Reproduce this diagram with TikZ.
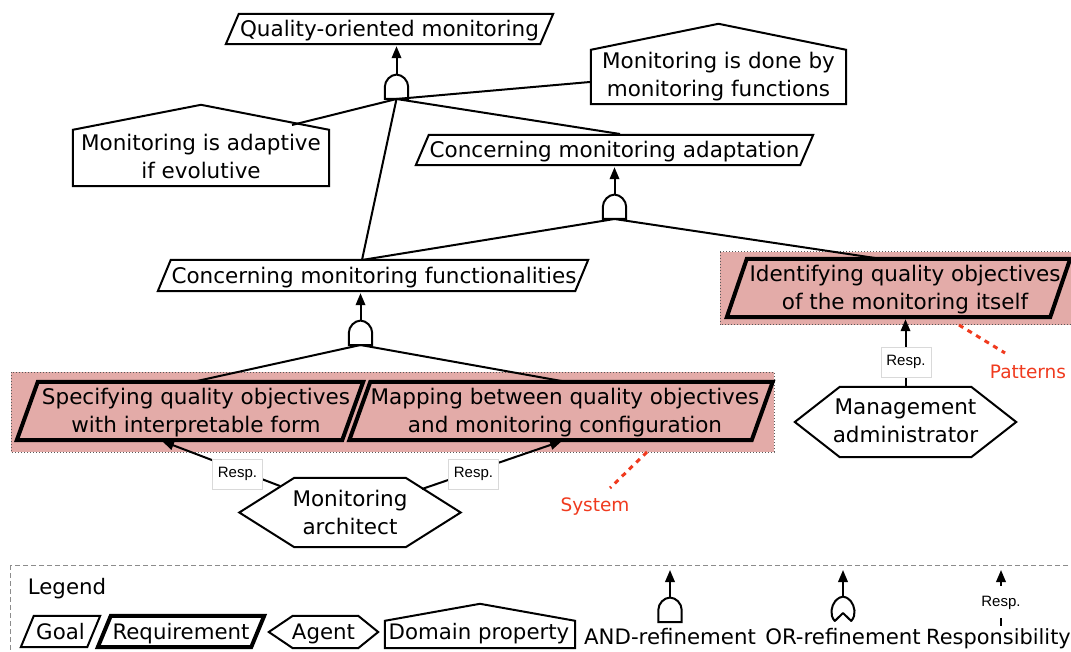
\documentclass[tikz,border=0pt]{standalone}
\usepackage{fontspec}
\setmainfont{DejaVu Sans}
\newfontfamily\respfont{Liberation Sans}
\usetikzlibrary{arrows.meta,calc}
\definecolor{pinkbg}{HTML}{E3ABA8}
\definecolor{redlabel}{HTML}{F03A1E}
\tikzset{
  x=1pt,y=-1pt,
  label text/.style={inner sep=0pt,align=center,font=\fontsize{21.5}{28}\selectfont},
  legend text/.style={inner sep=0pt,font=\fontsize{21.3}{24}\selectfont},
  goalline/.style={draw=black,line width=2pt,line join=miter,fill=white},
  reqline/.style={draw=black,line width=4pt,line join=miter},
  conn/.style={draw=black,line width=2pt},
  arrowconn/.style={conn,-{Triangle[length=12pt,width=9.5pt]}},
  respbox/.style={draw=black!15,line width=1pt,fill=white,inner sep=0pt,minimum width=50pt,minimum height=30pt,font=\respfont\fontsize{15}{16}\selectfont},
  zone/.style={fill=pinkbg,draw=black!65,line width=1pt,dotted},
  redconn/.style={draw=redlabel,line width=3pt,dash pattern=on 5pt off 5pt},
  redtext/.style={text=redlabel,inner sep=0pt,font=\fontsize{18.5}{20}\selectfont},
  legendbox/.style={draw=black!45,line width=1pt,dash pattern=on 5pt off 3pt},
}
% #1 look, #2 name, #3 xc, #4 yc, #5 w, #6 h, #7 slant, #8 text, #9 text x offset
\newcommand{\paral}[9]{%
  \node[minimum width=#5pt,minimum height=#6pt,inner sep=0pt] (#2) at (#3,#4) {};
  \path[#1] ([xshift=#7pt]#2.north west) -- (#2.north east) -- ([xshift=-#7pt]#2.south east) -- (#2.south west) -- cycle;
  \node[label text] at ([xshift=#9pt,yshift=-2pt]#2.center) {#8};
}
% #1 name, #2 xc, #3 yc, #4 w, #5 h, #6 roof, #7 text, #8 text rise
\newcommand{\house}[8]{%
  \node[minimum width=#4pt,minimum height=#5pt,inner sep=0pt] (#1) at (#2,#3) {};
  \path[goalline] (#1.south west) -- (#1.north west) -- ([yshift=#6pt]#1.north) -- (#1.north east) -- (#1.south east) -- cycle;
  \node[label text] at ([yshift=#8pt]#1.center) {#7};
}
% #1 name, #2 xc, #3 yc, #4 w, #5 h, #6 inset, #7 text, #8 text rise
\newcommand{\hexa}[8]{%
  \node[minimum width=#4pt,minimum height=#5pt,inner sep=0pt] (#1) at (#2,#3) {};
  \path[goalline] (#1.west) -- ([xshift=#6pt]#1.north west) -- ([xshift=-#6pt]#1.north east) -- (#1.east) -- ([xshift=-#6pt]#1.south east) -- ([xshift=#6pt]#1.south west) -- cycle;
  \node[label text] at ([yshift=#8pt]#1.center) {#7};
}
% #1 name, #2 xc, #3 bottom y
\newcommand{\andgate}[3]{%
  \node[minimum width=23pt,minimum height=24pt,inner sep=0pt,anchor=south] (#1) at (#2,#3) {};
  \path[conn,fill=white] (#1.south west) -- ([yshift=12pt]#1.south west)
    .. controls ([yshift=18.5pt]#1.south west) and ([xshift=-6pt]#1.north) .. (#1.north)
    .. controls ([xshift=6pt]#1.north) and ([yshift=18.5pt]#1.south east) .. ([yshift=12pt]#1.south east)
    -- (#1.south east) -- cycle;
}
\newcommand{\orgate}[3]{%
  \node[minimum width=23pt,minimum height=24pt,inner sep=0pt,anchor=south] (#1) at (#2,#3) {};
  \path[conn,fill=white,line join=round] ([xshift=3.5pt]#1.south west)
    .. controls ([xshift=-2pt,yshift=6pt]#1.south west) and ([yshift=15pt]#1.south west) .. ([xshift=4pt,yshift=20pt]#1.south west)
    .. controls ([xshift=7pt,yshift=23pt]#1.south west) and ([xshift=-2pt]#1.north) .. (#1.north)
    .. controls ([xshift=2pt]#1.north) and ([xshift=-7pt,yshift=23pt]#1.south east) .. ([xshift=-4pt,yshift=20pt]#1.south east)
    .. controls ([yshift=15pt]#1.south east) and ([xshift=2pt,yshift=6pt]#1.south east) .. ([xshift=-3.5pt]#1.south east)
    -- ([yshift=8pt]#1.south) -- cycle;
}
\begin{document}
\begin{tikzpicture}
\useasboundingbox (0,0) rectangle (1071,652);
\clip (0,0) rectangle (1071,652);
\fill[white] (0,0) rectangle (1071,652);

% highlighted zones
\path[zone] (11,372) rectangle (774,452);
\path[zone] (720,252) rectangle (1075,325);

% junction and free-end coordinates
\coordinate (roofA) at (292,125);
\coordinate (roofB) at (590,82);
\coordinate (adaptTop) at (620,134);
\coordinate (funcTopA) at (362,260);
\coordinate (objTop) at (875,258);
\coordinate (reqLTop) at (197,381);
\coordinate (reqRTop) at (567,382);
\coordinate (reqLBot) at (162,441);
\coordinate (reqRBot) at (562,441);
\coordinate (archL) at (280,486);
\coordinate (archR) at (422,489);

% goals, domain properties
\paral{goalline}{gQuality}{389.5}{29}{327}{30}{13}{Quality-oriented monitoring}{0}
\house{dDone}{718.5}{77}{255}{54}{26}{Monitoring is done by\\monitoring functions}{0}
\house{dAdaptive}{201}{158}{256}{56}{25}{Monitoring is adaptive\\if evolutive}{2}
\paral{goalline}{gAdapt}{614.5}{150}{397}{30}{13}{Concerning monitoring adaptation}{0}
\paral{goalline}{gFunc}{373}{275.5}{430}{31}{13}{Concerning monitoring functionalities}{1}

% requirements
\paral{reqline}{rSpec}{190}{411}{346}{58}{21}{Specifying quality objectives\\with interpretable form}{6}
\paral{reqline}{rMap}{561}{411}{423}{58}{21}{Mapping between quality objectives\\and monitoring configuration}{4}
\paral{reqline}{rIdent}{898.5}{288}{343}{58}{20}{Identifying quality objectives\\of the monitoring itself}{6.5}

% agents
\hexa{aArch}{350}{512.5}{221}{69}{55}{Monitoring\\architect}{0}
\hexa{aAdmin}{905.5}{422}{221}{70}{45}{Management\\administrator}{1}

% AND gates
\andgate{gateTop}{396.5}{99}
\andgate{gateAdapt}{614.5}{219}
\andgate{gateFunc}{360.5}{345}

% refinement connectors
\draw[arrowconn] (gateTop.north) -- ([yshift=-2pt]gateTop.north |- gQuality.south);
\draw[arrowconn] (gateAdapt.north) -- ([yshift=-2pt]gateAdapt.north |- gAdapt.south);
\draw[arrowconn] (gateFunc.north) -- ([yshift=-2pt]gateFunc.north |- gFunc.south);
\draw[conn] (gateTop.south) -- (roofA);
\draw[conn] (gateTop.south) -- (roofB);
\draw[conn] (gateTop.south) -- (adaptTop);
\draw[conn] (gateTop.south) -- (funcTopA);
\draw[conn] (gateAdapt.south) -- (funcTopA);
\draw[conn] (gateAdapt.south) -- (objTop);
\draw[conn] (gateFunc.south) -- (reqLTop);
\draw[conn] (gateFunc.south) -- (reqRTop);

% responsibility connectors
\draw[arrowconn] (archL) -- (reqLBot);
\draw[arrowconn] (archR) -- (reqRBot);
\draw[arrowconn] (aAdmin.north) -- ([yshift=-2pt]aAdmin.north |- rIdent.south);
\node[respbox] (respL) at (237.5,474) {Resp.};
\node[respbox] (respR) at (473.5,474) {Resp.};
\node[respbox] (respA) at (906,362) {Resp.};

% annotations
\node[redtext] (tSystem) at (595,507) {System};
\node[redtext] (tPatterns) at (1028,372) {Patterns};
\coordinate (sysFrom) at (647,452);
\coordinate (sysTo) at (610,488);
\coordinate (patFrom) at (959,325);
\coordinate (patTo) at (1005,353);
\draw[redconn] (sysFrom) -- (sysTo);
\draw[redconn] (patFrom) -- (patTo);

% legend
\path[legendbox] (10,565) rectangle (1090,670);
\node[legend text] (tLegend) at (67,589) {Legend};
\node[minimum width=79pt,minimum height=31pt,inner sep=0pt] (lGoal) at (60.5,631.5) {};
\path[goalline] ([xshift=13pt]lGoal.north west) -- (lGoal.north east) -- ([xshift=-13pt]lGoal.south east) -- (lGoal.south west) -- cycle;
\node[legend text] at (lGoal.center) {Goal};
\node[minimum width=166pt,minimum height=31pt,inner sep=0pt] (lReq) at (181,631.5) {};
\path[reqline] ([xshift=13pt]lReq.north west) -- (lReq.north east) -- ([xshift=-13pt]lReq.south east) -- (lReq.south west) -- cycle;
\node[legend text] at ([yshift=-2pt]lReq.center) {Requirement};
\node[minimum width=109pt,minimum height=32pt,inner sep=0pt] (lAgent) at (323.5,632) {};
\path[goalline] (lAgent.west) -- ([xshift=24pt]lAgent.north west) -- ([xshift=-20pt]lAgent.north east) -- (lAgent.east) -- ([xshift=-20pt]lAgent.south east) -- ([xshift=24pt]lAgent.south west) -- cycle;
\node[legend text] at ([yshift=-2pt]lAgent.center) {Agent};
\node[minimum width=190pt,minimum height=27pt,inner sep=0pt] (lDom) at (480,634.5) {};
\path[goalline] (lDom.south west) -- (lDom.north west) -- ([yshift=17pt]lDom.north) -- (lDom.north east) -- (lDom.south east) -- cycle;
\node[legend text] at ([xshift=-1pt,yshift=1pt]lDom.center) {Domain property};

\andgate{lAnd}{670}{622}
\coordinate (lAndTip) at (670,570);
\draw[arrowconn] (lAnd.north) -- (lAndTip);
\orgate{lOr}{843}{621}
\coordinate (lOrTip) at (843,570);
\draw[arrowconn] (lOr.north) -- (lOrTip);
\node[inner sep=0pt,font=\respfont\fontsize{15}{16}\selectfont] (lResp) at (1001,603) {Resp.};
\coordinate (lRespTip) at (1001,570);
\coordinate (lRespTail) at (1001,586);
\coordinate (lRespEnd) at (1001,626);
\coordinate (lRespMid) at (1001,618);
\draw[arrowconn] (lRespTail) -- (lRespTip);
\draw[conn] (lRespMid) -- (lRespEnd);
\node[legend text] (tAnd) at (670,637) {AND-refinement};
\node[legend text] (tOr) at (843,637) {OR-refinement};
\node[inner sep=0pt,font=\fontsize{20.9}{24}\selectfont] (tResp) at (998.5,639) {Responsibility};
\end{tikzpicture}
\end{document}
